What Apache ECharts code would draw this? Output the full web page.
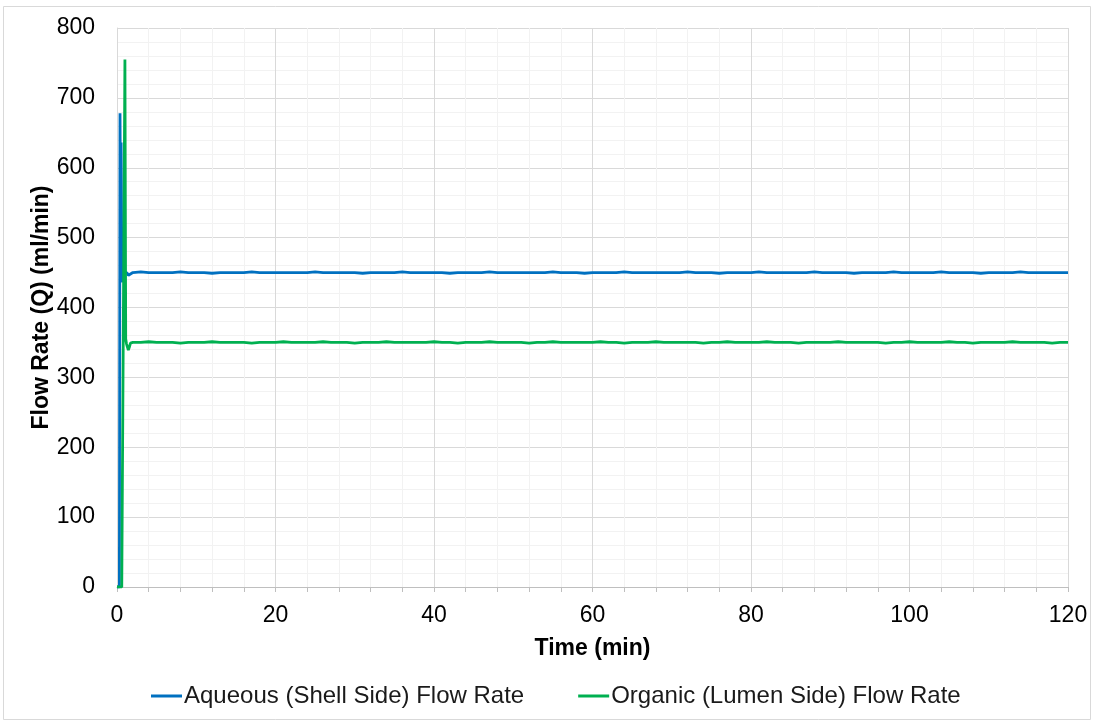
<!DOCTYPE html>
<html>
<head>
    <meta charset="UTF-8">
    <title>Flow Rate</title>
    <script src="https://cdn.jsdelivr.net/npm/echarts@6/dist/echarts.min.js"></script>
    <style>
        html, body { margin: 0; padding: 0; background: #fff; }
        #chart { width: 1094px; height: 722px; }
    </style>
</head>
<body>
    <div id="chart"></div>
    <script>
        // time (min): start-up transient then one reading per minute
        var timeMin = [0, 0.3, 0.38, 0.45, 0.52, 0.6, 0.68, 0.76, 0.85, 0.92, 1.0, 1.1, 1.2, 1.3, 1.43, 1.55, 1.7, 1.85,
            2, 3, 4, 5, 6, 7, 8, 9, 10, 11, 12, 13, 14, 15, 16, 17, 18, 19, 20, 21,
            22, 23, 24, 25, 26, 27, 28, 29, 30, 31, 32, 33, 34, 35, 36, 37, 38, 39, 40, 41,
            42, 43, 44, 45, 46, 47, 48, 49, 50, 51, 52, 53, 54, 55, 56, 57, 58, 59, 60, 61,
            62, 63, 64, 65, 66, 67, 68, 69, 70, 71, 72, 73, 74, 75, 76, 77, 78, 79, 80, 81,
            82, 83, 84, 85, 86, 87, 88, 89, 90, 91, 92, 93, 94, 95, 96, 97, 98, 99, 100, 101,
            102, 103, 104, 105, 106, 107, 108, 109, 110, 111, 112, 113, 114, 115, 116, 117, 118, 119, 120];

        var aqueousFlow = [0, 0, 678, 520, 636, 470, 436, 490, 442, 455, 451, 450, 451, 449, 446, 446, 448, 450,
            450, 451, 450, 450, 450, 450, 451, 450, 450, 450, 449, 450, 450, 450, 450, 451, 450, 450, 450, 450,
            450, 450, 450, 451, 450, 450, 450, 450, 450, 449, 450, 450, 450, 450, 451, 450, 450, 450, 450, 450,
            449, 450, 450, 450, 450, 451, 450, 450, 450, 450, 450, 450, 450, 451, 450, 450, 450, 449, 450, 450,
            450, 450, 451, 450, 450, 450, 450, 450, 450, 450, 451, 450, 450, 450, 449, 450, 450, 450, 450, 451,
            450, 450, 450, 450, 450, 450, 451, 450, 450, 450, 450, 449, 450, 450, 450, 450, 451, 450, 450, 450,
            450, 450, 451, 450, 450, 450, 450, 449, 450, 450, 450, 450, 451, 450, 450, 450, 450, 450, 450];

        var organicFlow = [0, 0, 0, 0, 0, 0, 0, 0, 0, 0, 755, 355, 348, 344, 339, 343, 349, 350,
            350, 350, 351, 350, 350, 350, 349, 350, 350, 350, 351, 350, 350, 350, 350, 349, 350, 350, 350, 351,
            350, 350, 350, 350, 351, 350, 350, 350, 349, 350, 350, 350, 351, 350, 350, 350, 350, 350, 351, 350,
            350, 349, 350, 350, 350, 351, 350, 350, 350, 350, 349, 350, 350, 351, 350, 350, 350, 350, 350, 351,
            350, 350, 349, 350, 350, 350, 351, 350, 350, 350, 350, 350, 349, 350, 350, 351, 350, 350, 350, 350,
            351, 350, 350, 350, 349, 350, 350, 350, 350, 351, 350, 350, 350, 350, 350, 349, 350, 350, 351, 350,
            350, 350, 350, 351, 350, 350, 349, 350, 350, 350, 350, 351, 350, 350, 350, 350, 349, 350, 350];

        var seriesNames = ['Aqueous (Shell Side) Flow Rate', 'Organic (Lumen Side) Flow Rate'];
        var seriesColors = ['#0070c0', '#00b050'];

        function pairs(values) {
            return timeMin.map(function (t, i) { return [t, values[i]]; });
        }

        var font = 'Liberation Sans, Arial, sans-serif';
        var chart = echarts.init(document.getElementById('chart'));
        chart.setOption({
            animation: false,
            backgroundColor: '#fff',
            textStyle: { fontFamily: font },
            graphic: [{
                type: 'rect',
                shape: { x: 3.5, y: 6.5, width: 1087, height: 713 },
                style: { fill: 'none', stroke: '#d9d9d9', lineWidth: 1 },
                silent: true
            }],
            grid: { left: 117, right: 26, top: 28, bottom: 135 },
            legend: {
                bottom: 9,
                left: 146,
                itemWidth: 31,
                itemHeight: 3,
                itemGap: 54,
                icon: 'rect',
                textStyle: { fontSize: 24, color: '#1a1a1a', fontFamily: font, padding: [0, 0, 0, -3] },
                data: seriesNames
            },
            xAxis: {
                type: 'value',
                min: 0, max: 120, interval: 20,
                name: 'Time (min)',
                nameLocation: 'middle',
                nameGap: 50,
                nameMoveOverlap: false,
                nameTextStyle: { fontSize: 23, fontWeight: 'bold', color: '#000' },
                axisLine: { show: true, lineStyle: { color: '#bfbfbf', width: 1 } },
                axisTick: { show: true, length: 5, lineStyle: { color: '#bfbfbf' } },
                minorTick: { show: true, splitNumber: 5, length: 5, lineStyle: { color: '#bfbfbf' } },
                axisLabel: { fontSize: 23, color: '#000', margin: 17 },
                splitLine: { show: true, lineStyle: { color: '#d9d9d9', width: 1 } },
                minorSplitLine: { show: true, lineStyle: { color: '#f2f2f2', width: 1 } }
            },
            yAxis: {
                type: 'value',
                min: 0, max: 800, interval: 100,
                name: 'Flow Rate (Q) (ml/min)',
                nameLocation: 'middle',
                nameGap: 64,
                nameMoveOverlap: false,
                nameTextStyle: { fontSize: 23, fontWeight: 'bold', color: '#000' },
                axisLine: { show: true, lineStyle: { color: '#d9d9d9', width: 1 } },
                axisTick: { show: false },
                minorTick: { show: false, splitNumber: 5 },
                axisLabel: { fontSize: 23, color: '#000', margin: 22 },
                splitLine: { show: true, lineStyle: { color: '#d9d9d9', width: 1 } },
                minorSplitLine: { show: true, lineStyle: { color: '#f2f2f2', width: 1 } }
            },
            series: [
                {
                    name: seriesNames[0], type: 'line', showSymbol: false, symbol: 'none',
                    color: seriesColors[0], lineStyle: { width: 2.8 }, z: 3,
                    data: pairs(aqueousFlow)
                },
                {
                    name: seriesNames[1], type: 'line', showSymbol: false, symbol: 'none',
                    color: seriesColors[1], lineStyle: { width: 2.8 }, z: 4,
                    data: pairs(organicFlow)
                }
            ]
        });
    </script>
</body>
</html>
